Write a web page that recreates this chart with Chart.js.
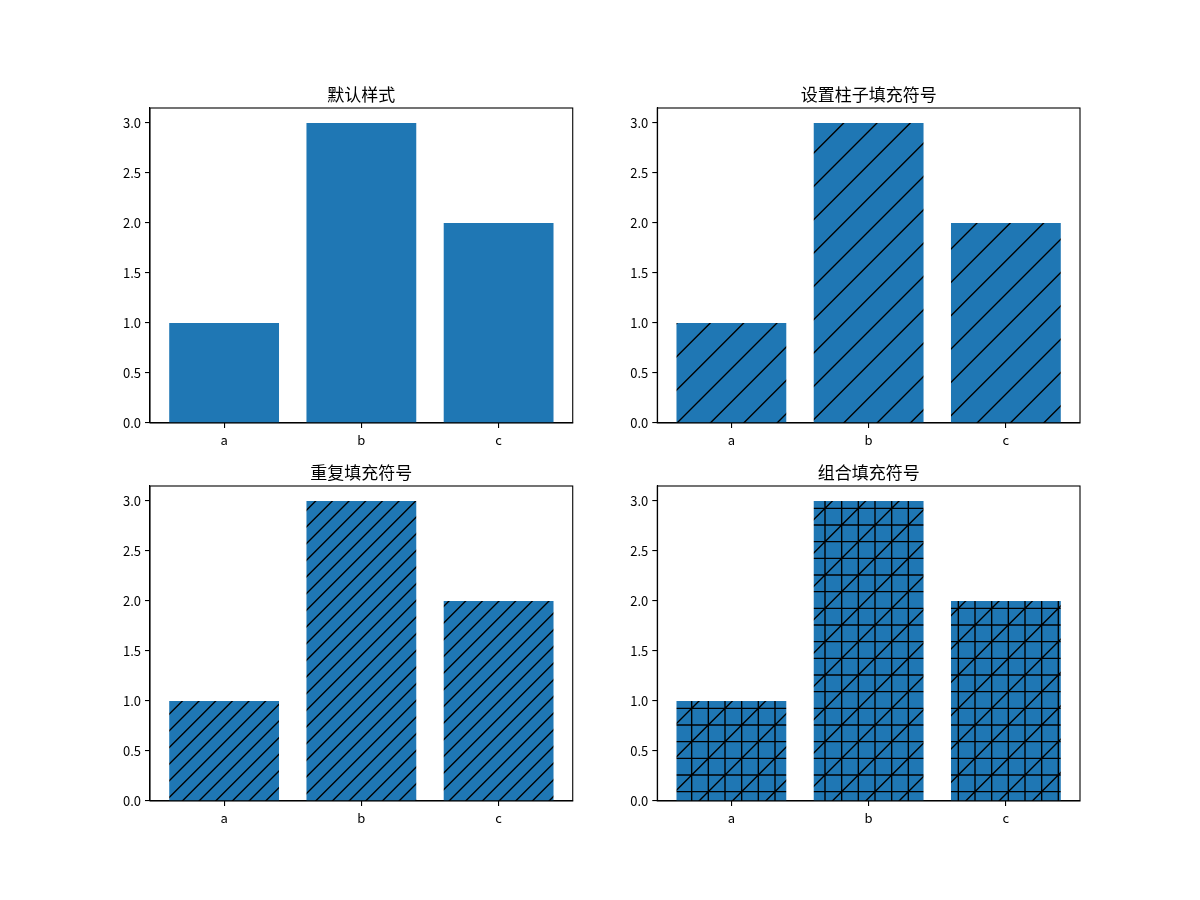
<!DOCTYPE html>
<html>
<head>
<meta charset="utf-8">
<script src="https://cdn.jsdelivr.net/npm/chart.js@4.4.0/dist/chart.umd.min.js"></script>
<style>
  body { margin: 0; background: #fff; }
  #fig { position: relative; width: 1200px; height: 900px; overflow: hidden; }
  #fig canvas { position: absolute; }
</style>
</head>
<body>
<div id="fig"></div>
<script>
/* Bar hatch demo, 2x2 subplots */

const categories = ['a', 'b', 'c'];
const values = [1, 3, 2];
const titles = ['默认样式', '设置柱子填充符号', '重复填充符号', '组合填充符号'];
const hatches = ['', '/', '//', '+/'];
const yTicks = [0, 0.5, 1, 1.5, 2, 2.5, 3];

const BAR_COLOR = '#1f77b4';
const FONT = "'Noto Sans CJK SC', 'DejaVu Sans', sans-serif";

// matplotlib default subplot geometry for a 12x9in figure at 100 dpi
const axW = 930 / 2.2;
const axH = 693 / 2.2;
const axLefts = [150, 150 + axW * 1.2];
const axTops = [108, 108 + axH * 1.2];

const fig = document.getElementById('fig');
const dpr = window.devicePixelRatio || 1;

// hatch tile is 100px (one inch), like matplotlib's hatch unit
function makeHatch(hatch, offX, offY) {
  const tile = document.createElement('canvas');
  tile.width = 100 * dpr;
  tile.height = 100 * dpr;
  const c = tile.getContext('2d');
  c.scale(dpr, dpr);
  c.fillStyle = BAR_COLOR;
  c.fillRect(0, 0, 100, 100);
  c.strokeStyle = '#000';
  c.lineWidth = 1.39;
  c.beginPath();

  const nPlus = (hatch.match(/\+/g) || []).length * 6;
  if (nPlus) {
    const step = 100 / nPlus;
    for (let i = 0; i < nPlus; i++) {
      const p = (i + 0.5) * step;
      c.moveTo(p, -5); c.lineTo(p, 105);
      c.moveTo(-5, p); c.lineTo(105, p);
    }
  }
  const nSlash = (hatch.match(/\//g) || []).length * 6;
  if (nSlash) {
    const step = 100 / (nSlash / 2);
    for (let s = -step; s <= 200 + step; s += step) {
      c.moveTo(s + 10, -10);
      c.lineTo(-10, s + 10);
    }
  }
  c.stroke();

  const pattern = c.createPattern(tile, 'repeat');
  pattern.setTransform(new DOMMatrix().translate(-offX, -offY).scale(1 / dpr));
  return pattern;
}

// top and right spines
const spinePlugin = {
  id: 'spines',
  afterDraw(chart) {
    const a = chart.chartArea;
    const ctx = chart.ctx;
    ctx.save();
    ctx.strokeStyle = '#000';
    ctx.lineWidth = 1.1;
    ctx.strokeRect(a.left, a.top, a.right - a.left, a.bottom - a.top);
    ctx.restore();
  }
};

const CW = 500, CH = 400, TOP = 40;

for (let k = 0; k < 4; k++) {
  const axLeft = axLefts[k % 2];
  const axTop = axTops[Math.floor(k / 2)];
  const left = Math.floor(axLeft) - 60;
  const top = Math.round(axTop) - TOP;
  const yw = axLeft - left;

  const canvas = document.createElement('canvas');
  canvas.width = CW;
  canvas.height = CH;
  canvas.style.left = left + 'px';
  canvas.style.top = top + 'px';
  canvas.style.width = CW + 'px';
  canvas.style.height = CH + 'px';
  fig.appendChild(canvas);

  const fill = hatches[k] ? makeHatch(hatches[k], left, top) : BAR_COLOR;
  const points = categories.map((c, i) => ({ x: i, y: values[i] }));

  new Chart(canvas, {
    type: 'bar',
    data: {
      datasets: [{
        data: points,
        backgroundColor: fill,
        borderWidth: 0,
        barPercentage: 0.8,
        categoryPercentage: 1.0
      }]
    },
    options: {
      responsive: false,
      animation: false,
      layout: { padding: { left: 0, top: 0, right: CW - yw - axW, bottom: CH - TOP - axH - 27 } },
      plugins: {
        legend: { display: false },
        tooltip: { enabled: false },
        title: {
          display: true,
          text: titles[k],
          fullSize: false,
          color: '#000',
          font: { family: FONT, size: 17, weight: 'normal' },
          padding: { top: 16.6, bottom: 3 }
        }
      },
      scales: {
        x: {
          type: 'linear',
          min: -0.54,
          max: 2.54,
          offset: false,
          afterBuildTicks: (s) => { s.ticks = categories.map((c, i) => ({ value: i })); },
          afterFit: (s) => { s.height = 27; },
          grid: { offset: false, drawOnChartArea: false, drawTicks: true, tickLength: 5, color: '#000', lineWidth: 1.1 },
          border: { display: true, color: '#000', width: 1.1 },
          ticks: {
            color: '#000',
            padding: 4,
            maxRotation: 0,
            font: { family: FONT, size: 13 },
            callback: (v) => categories[v]
          }
        },
        y: {
          min: 0,
          max: 3.15,
          afterBuildTicks: (s) => { s.ticks = yTicks.map(v => ({ value: v })); },
          afterFit: (s) => { s.width = yw; },
          grid: { drawOnChartArea: false, drawTicks: true, tickLength: 5, color: '#000', lineWidth: 1.1 },
          border: { display: true, color: '#000', width: 1.1 },
          ticks: {
            color: '#000',
            padding: 4,
            font: { family: FONT, size: 13 },
            callback: (v) => Number(v).toFixed(1)
          }
        }
      }
    },
    plugins: [spinePlugin]
  });
}
</script>
</body>
</html>
